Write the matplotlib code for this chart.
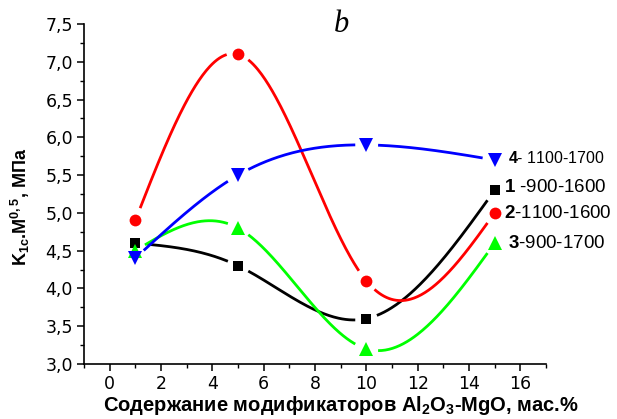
import numpy as np
import matplotlib

matplotlib.use("Agg")
import matplotlib.pyplot as plt
from matplotlib.ticker import MultipleLocator, FuncFormatter

plt.rcParams["font.family"] = ["Liberation Sans", "DejaVu Sans"]
plt.rcParams["mathtext.fontset"] = "custom"
plt.rcParams["mathtext.rm"] = "Liberation Sans"
plt.rcParams["mathtext.bf"] = "Liberation Sans:bold"

# ----------------------------------------------------------------------
# Daten
# ----------------------------------------------------------------------
x_mod = [1, 5, 10, 15]
k1c_1 = [4.6, 4.3, 3.6, 5.3]   # 1 -900-1600
k1c_2 = [4.9, 7.1, 4.1, 5.0]   # 2-1100-1600
k1c_3 = [4.5, 4.8, 3.2, 4.6]   # 3-900-1700
k1c_4 = [4.4, 5.5, 5.9, 5.7]   # 4- 1100-1700

series_labels = [r"$\mathbf{1}$ -900-1600", r"$\mathbf{2}$-1100-1600",
                 r"$\mathbf{3}$-900-1700", r"$\mathbf{4}$- 1100-1700"]

series = [
    (k1c_1, "black", "s", 7.5, series_labels[0], (504, 187), 13.5),
    (k1c_2, "#ff0000", "o", 8.5, series_labels[1], (504, 213), 13.5),
    (k1c_3, "#00ff00", "^", 9.5, series_labels[2], (508, 243), 13.5),
    (k1c_4, "#0000ff", "v", 9.5, series_labels[3], (508, 158), 11.5),
]


def natural_spline(x, y, n=300):
    """Natuerlicher kubischer Spline durch die Stuetzpunkte."""
    x = np.asarray(x, float)
    y = np.asarray(y, float)
    m = len(x)
    h = np.diff(x)
    A = np.zeros((m, m))
    b = np.zeros(m)
    A[0, 0] = A[-1, -1] = 1.0
    for i in range(1, m - 1):
        A[i, i - 1] = h[i - 1]
        A[i, i] = 2 * (h[i - 1] + h[i])
        A[i, i + 1] = h[i]
        b[i] = 6 * ((y[i + 1] - y[i]) / h[i] - (y[i] - y[i - 1]) / h[i - 1])
    M = np.linalg.solve(A, b)
    xs = np.linspace(x[0], x[-1], n)
    ys = np.empty_like(xs)
    for j, t in enumerate(xs):
        i = min(max(np.searchsorted(x, t) - 1, 0), m - 2)
        a = x[i + 1] - t
        c = t - x[i]
        ys[j] = (M[i] * a ** 3 / (6 * h[i]) + M[i + 1] * c ** 3 / (6 * h[i])
                 + (y[i] / h[i] - M[i] * h[i] / 6) * a
                 + (y[i + 1] / h[i] - M[i + 1] * h[i] / 6) * c)
    return xs, ys


W, H = 617, 419
fig = plt.figure(figsize=(W / 100, H / 100), dpi=100)
ax = fig.add_axes([84 / W, 1 - 364 / H, (546 - 84) / W, (364 - 24) / H])
ax.set_xlim(-1, 17)
ax.set_ylim(3.0, 7.5)

gap_px = 11.0
for vals, col, mk, ms, lbl, (px, py), fs in series:
    xs, ys = natural_spline(x_mod, vals)
    # Luecke um die Marker (wie im Original)
    pts = ax.transData.transform(np.column_stack([xs, ys]))
    mpts = ax.transData.transform(np.column_stack([x_mod, vals]))
    ys_g = ys.copy()
    for p in mpts:
        d = np.hypot(pts[:, 0] - p[0], pts[:, 1] - p[1])
        ys_g[d < gap_px] = np.nan
    ax.plot(xs, ys_g, color=col, linewidth=2.0, solid_capstyle="butt")
    ax.plot(x_mod, vals, linestyle="none", marker=mk, markersize=ms,
            color=col, markeredgewidth=0, zorder=5, clip_on=False)
    # Beschriftung rechts neben dem letzten Punkt
    fig.text(px / W, 1 - py / H, lbl, fontsize=fs, va="center", ha="left")

ax.spines["top"].set_visible(False)
ax.spines["right"].set_visible(False)
ax.spines["left"].set_linewidth(1.2)
ax.spines["bottom"].set_linewidth(1.2)

ax.xaxis.set_major_locator(MultipleLocator(2))
ax.xaxis.set_minor_locator(MultipleLocator(1))
ax.yaxis.set_major_locator(MultipleLocator(0.5))
ax.yaxis.set_minor_locator(MultipleLocator(0.25))
ax.yaxis.set_major_formatter(
    FuncFormatter(lambda v, p: f"{v:.1f}".replace(".", ",")))
ax.tick_params(which="major", direction="out", length=5, width=1.1,
               labelsize=12.5, pad=3)
ax.tick_params(which="minor", direction="out", length=3, width=1.0)
for t in ax.get_xticklabels() + ax.get_yticklabels():
    t.set_family("DejaVu Sans")

fig.text(341 / W, 1 - 411 / H,
         r"Содержание модификаторов Al$_\mathbf{2}$O$_\mathbf{3}$-MgO, мас.%",
         fontsize=14.5, fontweight="bold", ha="center", va="baseline")
fig.text(20 / W, 1 - 207 / H, r"K$_\mathbf{1c}$.M$^\mathbf{0,5}$, МПа",
         fontsize=13, fontweight="bold", rotation=90,
         ha="center", va="center")

fig.text(341 / W, 1 - 25 / H, "b", fontsize=22, style="italic",
         family="Liberation Serif", ha="center", va="center")

fig.savefig("out.png", dpi=100)
